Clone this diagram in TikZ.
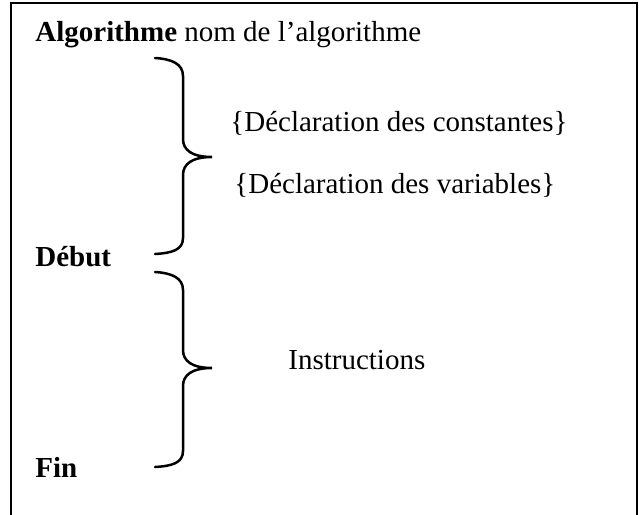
\documentclass[tikz,border=0pt]{standalone}
\usepackage{fontspec}
\setmainfont{Liberation Serif}
\begin{document}
\begin{tikzpicture}[x=0.5pt,y=-0.5pt,
  txt/.style={anchor=base west,inner sep=0pt,font=\fontsize{14.5}{17}\selectfont},
  frame/.style={line width=1pt},
  brace/.style={line width=1.25pt,line cap=round}]
  \useasboundingbox (0,0) rectangle (639,515);
  % open frame around the algorithm skeleton
  \draw[frame] (11,525) -- (11,3) -- (637,3) -- (637,525);
  % text lines
  \node[txt] (titre) at (35,41) {\textbf{Algorithme} nom de l’algorithme};
  \node[txt] (const) at (230,131) {\{Déclaration des constantes\}};
  \node[txt] (vars) at (234,193) {\{Déclaration des variables\}};
  \node[txt] (debut) at (35,266) {\textbf{Début}};
  \node[txt] (instr) at (288,369) {Instructions};
  \node[txt] (fin) at (35,477) {\textbf{Fin}};
  % brace grouping the declarations
  \draw[brace] (155,58) .. controls (172,59) and (183,64) .. (183,76)
    -- (183,139) .. controls (183,150) and (192,157) .. (212,157)
    .. controls (192,157) and (183,164) .. (183,175)
    -- (183,238) .. controls (183,250) and (172,253) .. (155,254);
  % brace grouping the instructions
  \draw[brace] (155,272) .. controls (172,273) and (183,278) .. (183,290)
    -- (183,350) .. controls (183,361) and (192,368) .. (212,368)
    .. controls (192,368) and (183,375) .. (183,386)
    -- (183,451) .. controls (183,463) and (172,466) .. (155,467);
\end{tikzpicture}
\end{document}
